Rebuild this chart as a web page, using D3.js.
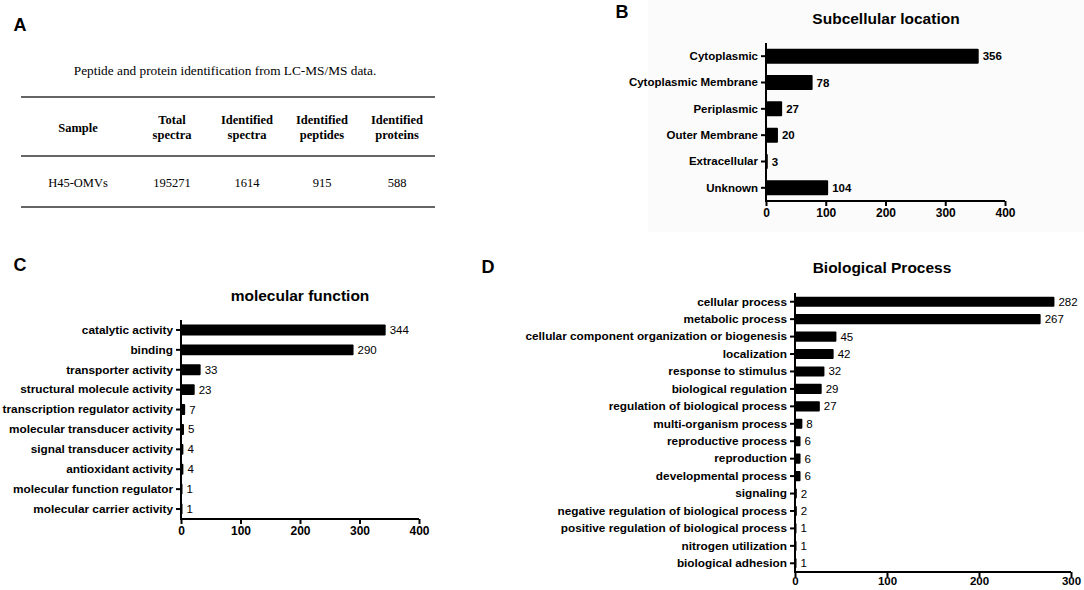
<!DOCTYPE html>
<html>
<head>
<meta charset="utf-8">
<script src="https://cdn.jsdelivr.net/npm/d3@7"></script>
<style>
  body { margin: 0; background: #fff; }
  svg { display: block; font-family: "Liberation Sans", Arial, sans-serif; }
  .axis path, .axis line { stroke: #000; stroke-width: 2px; }
  .tbl { font-family: "Liberation Serif", "Times New Roman", serif; }
</style>
</head>
<body>
<svg id="fig" width="1084" height="590"></svg>
<script>
// table (panel A)
let tableCaption = "Peptide and protein identification from LC-MS/MS data.";
let tableHeaders = [["Sample"], ["Total", "spectra"], ["Identified", "spectra"], ["Identified", "peptides"], ["Identified", "proteins"]];
let tableRow = ["H45-OMVs", "195271", "1614", "915", "588"];

// panel B
let locCats = ["Cytoplasmic", "Cytoplasmic Membrane", "Periplasmic", "Outer Membrane", "Extracellular", "Unknown"];
let locVals = [356, 78, 27, 20, 3, 104];
let locTicks = [0, 100, 200, 300, 400];

// panel C
let mfCats = ["catalytic activity", "binding", "transporter activity", "structural molecule activity",
  "transcription regulator activity", "molecular transducer activity", "signal transducer activity",
  "antioxidant activity", "molecular function regulator", "molecular carrier activity"];
let mfVals = [344, 290, 33, 23, 7, 5, 4, 4, 1, 1];
let mfTicks = [0, 100, 200, 300, 400];

// panel D
let bpCats = ["cellular process", "metabolic process", "cellular component organization or biogenesis",
  "localization", "response to stimulus", "biological regulation", "regulation of biological process",
  "multi-organism process", "reproductive process", "reproduction", "developmental process", "signaling",
  "negative regulation of biological process", "positive regulation of biological process",
  "nitrogen utilization", "biological adhesion"];
let bpVals = [282, 267, 45, 42, 32, 29, 27, 8, 6, 6, 6, 2, 2, 1, 1, 1];
let bpTicks = [0, 100, 200, 300];

let svg = d3.select("#fig");

// faint grey backdrop behind panel B (scan artefact)
svg.append("rect").attr("x", 648).attr("y", 0).attr("width", 436).attr("height", 232).attr("fill", "#fbfbfb");

// panel letters
[["A", 20, 31], ["B", 622, 18], ["C", 20, 271], ["D", 488, 273]].forEach(function(p){
  svg.append("text").attr("x", p[1]).attr("y", p[2]).attr("font-size", 18).attr("font-weight", "bold")
    .attr("text-anchor", "middle").text(p[0]);
});

// ---- panel A: table ----
let tbl = svg.append("g").attr("class", "tbl");
tbl.append("text").attr("x", 225).attr("y", 75).attr("text-anchor", "middle").attr("font-size", 13.3).text(tableCaption);
[97, 156, 207].forEach(function(y){
  tbl.append("line").attr("x1", 21).attr("x2", 435).attr("y1", y).attr("y2", y)
    .attr("stroke", "#333").attr("stroke-width", 1.6);
});
let colX = [78, 172, 247, 322, 397];
tableHeaders.forEach(function(h, i){
  let t = tbl.append("text").attr("x", colX[i]).attr("text-anchor", "middle")
    .attr("font-size", 12.5).attr("font-weight", "bold");
  if (h.length == 1) {
    t.attr("y", 132).text(h[0]);
  } else {
    t.append("tspan").attr("x", colX[i]).attr("y", 124).text(h[0]);
    t.append("tspan").attr("x", colX[i]).attr("y", 139).text(h[1]);
  }
});
tableRow.forEach(function(v, i){
  tbl.append("text").attr("x", colX[i]).attr("y", 187).attr("text-anchor", "middle")
    .attr("font-size", 12.5).text(v);
});

// ---- bar panels ----
let drawBars = function(o){
  let g = svg.append("g");
  let x = d3.scaleLinear().domain([0, o.max]).range([o.x0, o.x1]);
  let y = d3.scaleBand().domain(o.cats).range([o.top, o.bottom])
    .paddingInner(o.pad).paddingOuter(o.pad / 2);

  g.selectAll(".bar").data(o.vals).enter().append("rect")
    .attr("class", "bar")
    .attr("x", x(0))
    .attr("y", (d, i) => y(o.cats[i]))
    .attr("width", d => Math.max(x(d) - x(0), 1.5))
    .attr("height", y.bandwidth())
    .attr("rx", 1)
    .attr("fill", "#000");

  g.selectAll(".val").data(o.vals).enter().append("text")
    .attr("class", "val")
    .attr("x", d => Math.max(x(d), x(0) + 1.5) + 4)
    .attr("y", (d, i) => y(o.cats[i]) + y.bandwidth() / 2)
    .attr("dy", "0.35em")
    .attr("font-size", o.valSize)
    .attr("font-weight", o.valWeight)
    .text(d => d);

  let yAxis = d3.axisLeft(y).tickSize(5).tickPadding(3).tickSizeOuter(0);
  let yg = g.append("g").attr("class", "axis").attr("transform", translate(o.x0, 0)).call(yAxis);
  yg.select(".domain").attr("d", "M0," + o.top + "V" + o.bottom);
  yg.selectAll("text").attr("font-size", o.labSize).attr("font-weight", "bold")
    .attr("fill", "#000").attr("font-family", "Liberation Sans, Arial, sans-serif");

  let xAxis = d3.axisBottom(x).tickValues(o.ticks).tickSize(5).tickPadding(o.tickPad).tickSizeOuter(0);
  let xg = g.append("g").attr("class", "axis").attr("transform", translate(0, o.bottom)).call(xAxis);
  xg.select(".domain").attr("d", "M" + (o.x0 - 1) + ",0H" + o.x1);
  xg.selectAll("text").attr("font-size", o.tickSize).attr("font-weight", "bold")
    .attr("fill", "#000").attr("font-family", "Liberation Sans, Arial, sans-serif");

  svg.append("text").attr("x", o.titleX).attr("y", o.titleY).attr("text-anchor", "middle")
    .attr("font-size", 15.5).attr("font-weight", "bold").text(o.title);
};

drawBars({cats: locCats, vals: locVals, ticks: locTicks, max: 400,
  x0: 766, x1: 1005, top: 43, bottom: 201, pad: 0.43,
  labSize: 11.5, valSize: 11.5, valWeight: "bold", tickSize: 12, tickPad: 2,
  title: "Subcellular location", titleX: 886, titleY: 24});

drawBars({cats: mfCats, vals: mfVals, ticks: mfTicks, max: 400,
  x0: 181, x1: 419, top: 320, bottom: 519, pad: 0.45,
  labSize: 11.8, valSize: 11.5, valWeight: "normal", tickSize: 12, tickPad: 2,
  title: "molecular function", titleX: 300, titleY: 301});

drawBars({cats: bpCats, vals: bpVals, ticks: bpTicks, max: 300,
  x0: 795, x1: 1071, top: 293, bottom: 572, pad: 0.42,
  labSize: 11.8, valSize: 11.5, valWeight: "normal", tickSize: 11.5, tickPad: 0,
  title: "Biological Process", titleX: 882, titleY: 273});

function translate(x, y) {
  return 'translate(' + x + ',' + y + ')';
}
</script>
</body>
</html>
